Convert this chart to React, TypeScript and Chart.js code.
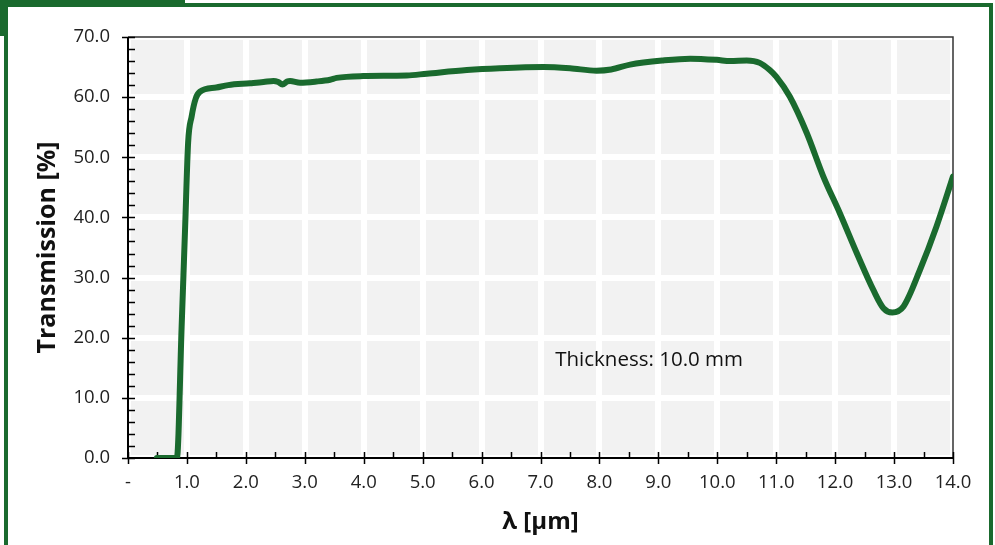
import React, { useEffect, useRef } from "react";
import { Chart, registerables } from "chart.js";

Chart.register(...registerables);

const wavelengths = [
  0.49, 0.83, 0.91, 0.97, 1.02, 1.08, 1.15, 1.22, 1.5, 1.7, 2.07, 2.3, 2.47, 2.55, 2.62, 2.7, 2.75, 2.92,
  3.2, 3.43, 3.54, 3.99, 4.73, 5.07, 5.75, 6.31, 7.05, 7.5, 7.95, 8.2, 8.52, 9.08, 9.54, 9.99, 10.22,
  10.5, 10.72, 10.89, 11.0, 11.23, 11.52, 11.8, 12.08, 12.37, 12.65, 12.82, 12.97, 13.16, 13.44, 13.72, 14.0,
];
const transmission = [
  0, 0, 21.8, 38.5, 52.4, 56.8, 59.8, 60.9, 61.6, 62.0, 62.3, 62.5, 62.7, 62.5, 62.1, 62.6, 62.7, 62.4,
  62.6, 62.9, 63.2, 63.5, 63.6, 63.9, 64.5, 64.8, 65.0, 64.8, 64.4, 64.6, 65.4, 66.1, 66.4, 66.2, 66.0,
  66.1, 65.7, 64.5, 63.4, 60.1, 54.0, 46.8, 40.7, 34.0, 27.9, 24.9, 24.2, 25.2, 31.3, 38.5, 46.8,
];
const xTitle = "λ [μm]";
const yTitle = "Transmission [%]";
const noteText = "Thickness: 10.0 mm";
const notePos = [7.25, 16.3];

const GREEN = "#1a6a2e";
const FONT = "'Open Sans', 'Liberation Sans', sans-serif";

const decorPlugin = {
  id: "decor",
  beforeDraw(chart: any) {
    const { ctx, chartArea: a } = chart;
    ctx.save();
    ctx.fillStyle = "#f2f2f2";
    ctx.fillRect(a.left, a.top, a.right - a.left, a.bottom - a.top);
    ctx.restore();
  },
  beforeDatasetsDraw(chart: any) {
    const { ctx, chartArea: a, scales } = chart;
    const xs = scales.x;
    const ys = scales.y;
    ctx.save();
    ctx.strokeStyle = "#333";
    ctx.lineWidth = 1.5;
    ctx.beginPath();
    ctx.moveTo(a.left, a.top);
    ctx.lineTo(a.right, a.top);
    ctx.lineTo(a.right, a.bottom);
    ctx.stroke();
    ctx.strokeStyle = "#000";
    ctx.lineWidth = 2;
    ctx.beginPath();
    ctx.moveTo(a.left, a.top);
    ctx.lineTo(a.left, a.bottom);
    ctx.lineTo(a.right, a.bottom);
    ctx.stroke();
    ctx.lineWidth = 1.5;
    ctx.beginPath();
    for (let i = 0; i <= 28; i++) {
      const v = i * 0.5;
      const px = Math.round(xs.getPixelForValue(v)) + 0.5;
      const major = i % 2 === 0;
      ctx.moveTo(px, a.bottom - 6);
      ctx.lineTo(px, major ? a.bottom + 6 : a.bottom);
    }
    for (let i = 0; i <= 35; i++) {
      const v = i * 2;
      const py = Math.round(ys.getPixelForValue(v)) + 0.5;
      const major = i % 5 === 0;
      ctx.moveTo(major ? a.left - 6 : a.left, py);
      ctx.lineTo(a.left + 7, py);
    }
    ctx.stroke();
    ctx.restore();
  },
  afterDatasetsDraw(chart: any) {
    const { ctx, scales } = chart;
    ctx.save();
    ctx.fillStyle = "#111";
    ctx.font = `20.5px ${FONT}`;
    ctx.textAlign = "left";
    ctx.textBaseline = "middle";
    ctx.fillText(noteText, scales.x.getPixelForValue(notePos[0]), scales.y.getPixelForValue(notePos[1]));
    ctx.restore();
  },
};

export default function App() {
  const ref = useRef<HTMLCanvasElement | null>(null);
  useEffect(() => {
    if (!ref.current) return;
    const data = wavelengths.map((x, i) => ({ x, y: transmission[i] }));
    const chart = new Chart(ref.current, {
      type: "scatter",
      data: {
        datasets: [
          {
            data,
            showLine: true,
            borderColor: GREEN,
            borderWidth: 6,
            pointRadius: 0,
            cubicInterpolationMode: "monotone",
            borderCapStyle: "round",
            borderJoinStyle: "round",
          } as any,
        ],
      },
      options: {
        animation: false,
        responsive: false,
        devicePixelRatio: 1,
        layout: { padding: { left: 0, top: 37, right: 42, bottom: 0 } },
        plugins: { legend: { display: false }, tooltip: { enabled: false } },
        scales: {
          x: {
            type: "linear",
            min: 0,
            max: 14,
            afterFit: (s: any) => {
              s.height = 87;
            },
            ticks: {
              stepSize: 1,
              padding: 14,
              color: "#222",
              font: { family: FONT, size: 18.5 },
              callback: (v: any) => (Number(v) === 0 ? "-" : Number(v).toFixed(1)),
            },
            grid: { color: "#ffffff", lineWidth: 6, drawTicks: false },
            border: { display: false },
            title: {
              display: true,
              text: xTitle,
              color: "#111",
              font: { family: FONT, size: 24, weight: "bold" },
              padding: { top: 0, bottom: 8 },
            },
          },
          y: {
            min: 0,
            max: 70,
            afterFit: (s: any) => {
              s.width = 128;
            },
            ticks: {
              stepSize: 10,
              padding: 18,
              color: "#222",
              font: { family: FONT, size: 18.5 },
              callback: (v: any) => Number(v).toFixed(1),
            },
            grid: { color: "#ffffff", lineWidth: 6, drawTicks: false },
            border: { display: false },
            title: {
              display: true,
              text: yTitle,
              color: "#111",
              font: { family: FONT, size: 25, weight: "bold" },
              padding: { top: 33, bottom: 0 },
            },
          },
        },
      },
      plugins: [decorPlugin],
    });
    return () => chart.destroy();
  }, []);

  return (
    <div style={{ position: "fixed", left: 0, top: 0, width: 995, height: 545, overflow: "hidden", background: "#fff" }}>
      <canvas ref={ref} width={995} height={545} style={{ position: "absolute", left: 0, top: 0 }} />
      <div
        style={{
          position: "absolute",
          left: 4,
          top: 3,
          width: 989,
          height: 600,
          border: `4px solid ${GREEN}`,
          boxSizing: "border-box",
        }}
      />
      <div style={{ position: "absolute", left: 0, top: 0, width: 185, height: 7, background: GREEN }} />
      <div style={{ position: "absolute", left: 0, top: 0, width: 8, height: 36, background: GREEN }} />
    </div>
  );
}
